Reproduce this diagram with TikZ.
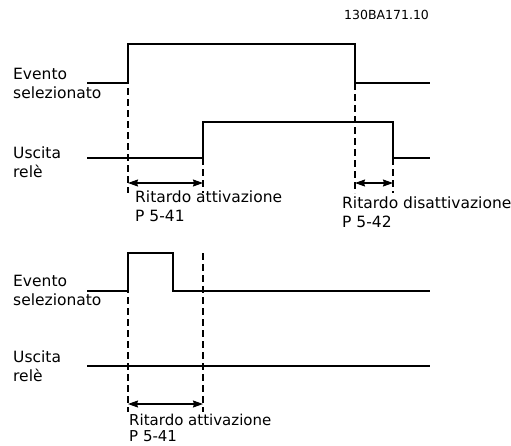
\documentclass[tikz,border=0pt]{standalone}
\usepackage{fontspec}
\setmainfont{DejaVu Sans}
\usetikzlibrary{arrows.meta}

\tikzset{
  sig/.style={line width=1.3pt,line join=miter},
  guide/.style={line width=1.1pt,dash pattern=on 7pt off 4pt},
  delay/.style={line width=1.1pt,{Stealth[length=10pt,width=7pt,inset=1pt]}-{Stealth[length=10pt,width=7pt,inset=1pt]}},
  lbl/.style={font=\fontsize{15.5}{19}\selectfont,align=left,anchor=base west,inner sep=0pt}
}

\begin{document}
\begin{tikzpicture}[x=1pt,y=-1pt]
  \useasboundingbox (0,0) rectangle (511,445);

  %% drawing number
  \node[font=\fontsize{12.5}{14}\selectfont,anchor=base west,inner sep=0pt] (code) at (344,19.5) {130BA171.10};

  %% upper case: event long enough
  \coordinate (a0) at (87,83);  \coordinate (a1) at (128,83);
  \coordinate (a2) at (128,44); \coordinate (a3) at (355,44);
  \coordinate (a4) at (355,83); \coordinate (a5) at (430,83);
  \coordinate (b0) at (87,158);  \coordinate (b1) at (203,158);
  \coordinate (b2) at (203,122); \coordinate (b3) at (393,122);
  \coordinate (b4) at (393,158); \coordinate (b5) at (430,158);
  \coordinate (ylow) at (0,193);
  \coordinate (yarr) at (0,183);

  \draw[sig] (a0) -- (a1) -- (a2) -- (a3) -- (a4) -- (a5);
  \draw[sig] (b0) -- (b1) -- (b2) -- (b3) -- (b4) -- (b5);

  \draw[guide] (a2) -- (a2 |- ylow);
  \draw[guide] (b1) -- (b1 |- ylow);
  \draw[guide] (a4) -- (a4 |- ylow);
  \draw[guide] (b4) -- (b4 |- ylow);

  \draw[delay] (a1 |- yarr) -- (b1 |- yarr);
  \draw[delay] (a4 |- yarr) -- (b4 |- yarr);

  \node[lbl] (ev1) at (13,98) {Evento\\selezionato};
  \node[lbl] (rel1) at (13,177) {Uscita\\relè};
  \node[lbl] (on1) at (135,221) {Ritardo attivazione\\P 5-41};
  \node[lbl] (off1) at (342,227) {Ritardo disattivazione\\P 5-42};

  %% lower case: event too short
  \coordinate (c0) at (87,291);  \coordinate (c1) at (128,291);
  \coordinate (c2) at (128,253); \coordinate (c3) at (173,253);
  \coordinate (c4) at (173,291); \coordinate (c5) at (430,291);
  \coordinate (d0) at (87,366);  \coordinate (d5) at (430,366);
  \coordinate (dtop) at (203,253);
  \coordinate (ylow2) at (0,412);
  \coordinate (yarr2) at (0,404);

  \draw[sig] (c0) -- (c1) -- (c2) -- (c3) -- (c4) -- (c5);
  \draw[sig] (d0) -- (d5);

  \draw[guide] (c2) -- (c2 |- ylow2);
  \draw[guide] (dtop) -- (dtop |- ylow2);

  \draw[delay] (c1 |- yarr2) -- (dtop |- yarr2);

  \node[lbl] (ev2) at (13,305) {Evento\\selezionato};
  \node[lbl] (rel2) at (13,381) {Uscita\\relè};
  \node[lbl,font=\fontsize{15}{16.5}\selectfont] (on2) at (129,441.5) {Ritardo attivazione\\P 5-41};
\end{tikzpicture}
\end{document}
